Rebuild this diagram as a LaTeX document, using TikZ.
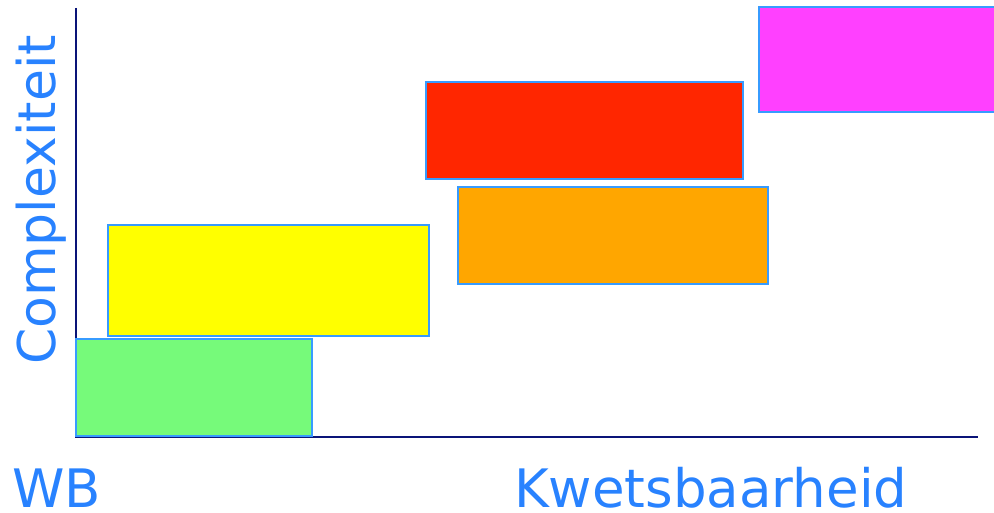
\documentclass[tikz,border=0pt]{standalone}
\usepackage{fontspec}
\setmainfont{DejaVu Sans}
\usepackage{tikz}

\definecolor{axisblue}{RGB}{10,20,120}
\definecolor{edgeblue}{RGB}{55,155,255}
\definecolor{labelblue}{RGB}{40,130,255}
\definecolor{cgreen}{RGB}{118,250,122}
\definecolor{cyellow}{RGB}{255,255,0}
\definecolor{cred}{RGB}{255,38,0}
\definecolor{corange}{RGB}{255,166,0}
\definecolor{cmagenta}{RGB}{255,64,255}

\tikzset{
  axisline/.style={draw=axisblue, line width=2pt},
  box/.style={draw=edgeblue, line width=2pt},
  axislabel/.style={text=labelblue, font=\fontsize{53}{53}\selectfont, inner sep=0pt},
}

\begin{document}
\begin{tikzpicture}[x=1pt, y=-1pt]
	\useasboundingbox (0,0) rectangle (994,513);
	% axes
	\coordinate (origin) at (76,437);
	\coordinate (ytop) at (76,8);
	\coordinate (xend) at (978,437);
	\draw[axisline] (ytop) -- (origin) -- (xend);
	% areas
	\draw[box, fill=cyellow] (108,225) rectangle (429,336);
	\draw[box, fill=cgreen] (76,339) rectangle (312,436);
	\draw[box, fill=cred] (426,82) rectangle (743,179);
	\draw[box, fill=corange] (458,187) rectangle (768,284);
	\draw[box, fill=cmagenta] (759,7) rectangle (998,112);
	% labels
	\node[axislabel, anchor=base west] (wb) at (12,507) {WB};
	\node[axislabel, anchor=base west] (kwets) at (514,507) {Kwetsbaarheid};
	\node[axislabel, font=\fontsize{52}{52}\selectfont, anchor=base west, rotate=90] (complex) at (55,365) {Complexiteit};
\end{tikzpicture}
\end{document}
